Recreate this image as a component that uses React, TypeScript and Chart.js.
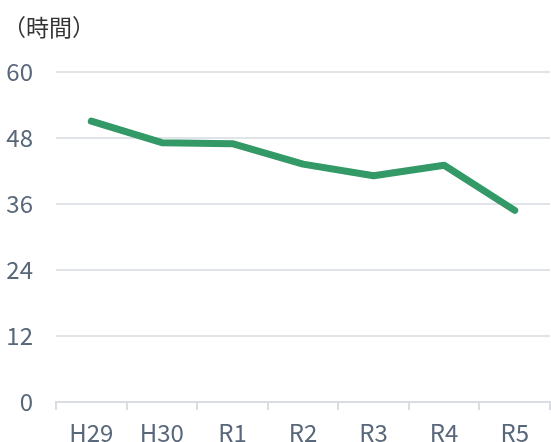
import React, { useEffect, useRef } from "react";
import { Chart, registerables } from "chart.js";

Chart.register(...registerables);

const categories = ["H29", "H30", "R1", "R2", "R3", "R4", "R5"];
const hours = [51, 47.1, 46.9, 43.2, 41.1, 43.0, 34.8];
const unitLabel = "（時間）";
const yMin = 0;
const yMax = 60;
const yStep = 12;

const FONT = "'Noto Sans CJK JP', 'Noto Sans', sans-serif";

export default function App() {
  const ref = useRef<HTMLCanvasElement | null>(null);
  useEffect(() => {
    document.body.style.margin = "0";
    const ctx = ref.current!;
    const chart = new Chart(ctx, {
      type: "line",
      data: {
        labels: categories,
        datasets: [
          {
            data: hours,
            borderColor: "#339966",
            backgroundColor: "#339966",
            borderWidth: 7,
            pointRadius: 0,
            borderCapStyle: "round",
            borderJoinStyle: "round",
            tension: 0,
          },
        ],
      },
      options: {
        animation: false,
        responsive: false,
        maintainAspectRatio: false,
        layout: { padding: { left: 3, right: 1, top: 0, bottom: 0 } },
        plugins: {
          legend: { display: false },
          tooltip: { enabled: false },
          title: {
            display: true,
            text: unitLabel,
            align: "start",
            color: "#333333",
            font: { family: FONT, size: 23, weight: "normal" },
            padding: { top: 13, bottom: 31 },
          },
        },
        scales: {
          x: {
            offset: true,
            afterFit: (s: any) => {
              s.height = 40;
            },
            grid: {
              offset: true,
              drawOnChartArea: false,
              drawTicks: true,
              tickLength: 8,
              color: "#d9dde3",
              lineWidth: 2,
            },
            border: { display: true, color: "#d9dde3", width: 2 },
            ticks: {
              color: "#58677a",
              font: { family: FONT, size: 24 },
              padding: 8,
              maxRotation: 0,
            },
          },
          y: {
            min: yMin,
            max: yMax,
            afterFit: (s: any) => {
              s.width = 53;
            },
            ticks: {
              stepSize: yStep,
              color: "#58677a",
              font: { family: FONT, size: 24 },
              padding: 23,
            },
            grid: { color: "#e0e3e8", lineWidth: 2, drawTicks: false },
            border: { display: false },
          },
        },
      },
    });
    return () => chart.destroy();
  }, []);
  return (
    <div style={{ width: 551, height: 442 }}>
      <canvas ref={ref} width={551} height={442} style={{ width: 551, height: 442, display: "block" }} />
    </div>
  );
}
